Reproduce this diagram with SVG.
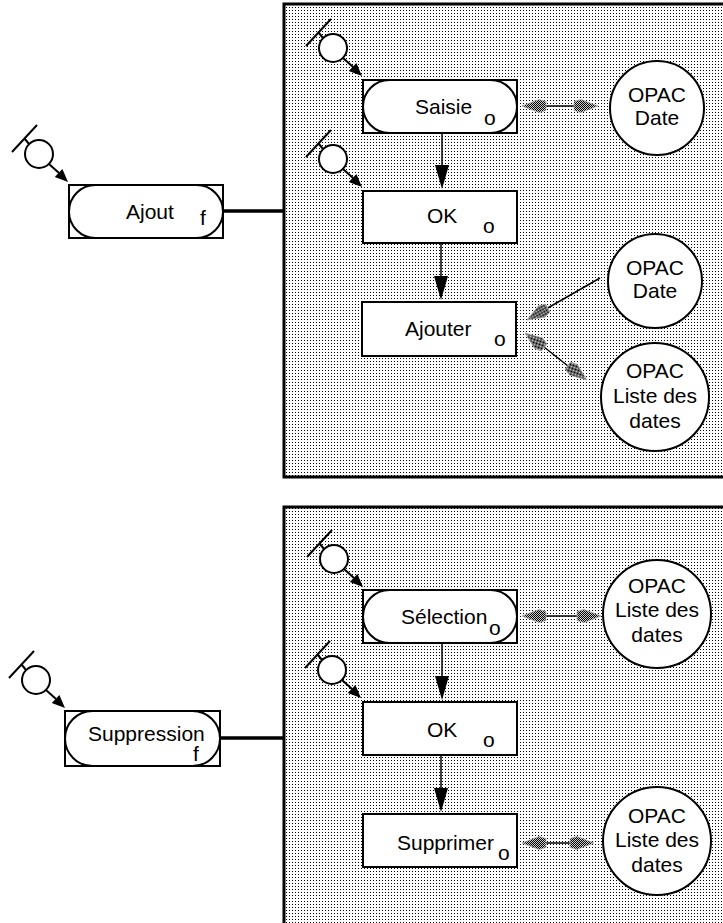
<svg xmlns="http://www.w3.org/2000/svg" xmlns:xlink="http://www.w3.org/1999/xlink" width="723" height="923" viewBox="0 0 723 923">
<defs>
<pattern id="dots" width="3" height="3" patternUnits="userSpaceOnUse"><rect width="3" height="3" fill="#fff"/><rect x="1" y="1" width="1" height="1" fill="#000"/></pattern>
<pattern id="dith" width="2" height="2" patternUnits="userSpaceOnUse"><rect width="2" height="2" fill="#c8c8c8"/><rect width="1" height="1" fill="#000"/><rect x="1" y="1" width="1" height="1" fill="#000"/></pattern>
<polygon id="gh" points="0,0 -17,-6.5 -24,-4.5 -24,4.5 -17,6.5" fill="url(#dith)" stroke="#aaa" stroke-width="0.8"/>
<polygon id="bh" points="0,0 -7,-24 7,-24" fill="#000"/>
<g id="start">
<circle cx="0" cy="0" r="14" fill="#fff" stroke="#000" stroke-width="2"/>
<line x1="-10" y1="-10" x2="-14.5" y2="-15.5" stroke="#000" stroke-width="2"/>
<line x1="-27" y1="-2" x2="-2" y2="-29" stroke="#000" stroke-width="2"/>
<line x1="10" y1="10" x2="20" y2="19" stroke="#000" stroke-width="2"/>
<polygon points="29,28 15.8,23 23.4,15" fill="#000"/>
</g>
</defs>
<style>
.panel{fill:url(#dots);stroke:#000;stroke-width:3}
.box{fill:#fff;stroke:#000;stroke-width:2}
.pill{fill:#fff;stroke:#000;stroke-width:2}
.ent{fill:#fff;stroke:#000;stroke-width:2}
.lbl{font-family:"Liberation Sans",Arial,sans-serif;font-size:21px;fill:#000}
.mid{text-anchor:middle}
.ln{stroke:#000;stroke-width:1.5;fill:none}
.thick{stroke:#000;stroke-width:3.5;fill:none}
</style>
<rect width="723" height="923" fill="#fff"/>

<g id="panel-top"><rect class="panel" x="284" y="4" width="460" height="473"/></g>
<g id="panel-bottom"><rect class="panel" x="284" y="507" width="460" height="440"/></g>

<g id="connectors">
<line class="thick" x1="223" y1="211" x2="284" y2="211"/>
<line class="thick" x1="220" y1="738" x2="284" y2="738"/>
<line class="ln" x1="442" y1="133" x2="442" y2="170"/><use xlink:href="#bh" transform="translate(442,189)"/>
<line class="ln" x1="441" y1="243" x2="441" y2="280"/><use xlink:href="#bh" transform="translate(441,300)"/>
<line class="ln" x1="442" y1="643" x2="442" y2="680"/><use xlink:href="#bh" transform="translate(442,700)"/>
<line class="ln" x1="441" y1="755" x2="441" y2="792"/><use xlink:href="#bh" transform="translate(441,812)"/>
<line class="ln" x1="545" y1="106" x2="575" y2="106"/><use xlink:href="#gh" transform="translate(522,106) rotate(180)"/><use xlink:href="#gh" transform="translate(598,106)"/>
<line class="ln" x1="546" y1="309" x2="600" y2="278"/><use xlink:href="#gh" transform="translate(527,320) rotate(150)"/>
<line class="ln" x1="544" y1="347" x2="568" y2="366"/><use xlink:href="#gh" transform="translate(525,333) rotate(217)"/><use xlink:href="#gh" transform="translate(587,380) rotate(37)"/>
<line class="ln" x1="545" y1="616" x2="578" y2="616"/><use xlink:href="#gh" transform="translate(522,616) rotate(180)"/><use xlink:href="#gh" transform="translate(601,616)"/>
<line class="ln" x1="545" y1="843" x2="571" y2="843"/><use xlink:href="#gh" transform="translate(522,843) rotate(180)"/><use xlink:href="#gh" transform="translate(594,843)"/>
</g>

<g id="start-ajout"><use xlink:href="#start" transform="translate(39,154)"/></g>
<g id="start-saisie"><use xlink:href="#start" transform="translate(333,48)"/></g>
<g id="start-ok1"><use xlink:href="#start" transform="translate(333,159)"/></g>
<g id="start-suppression"><use xlink:href="#start" transform="translate(36,680)"/></g>
<g id="start-selection"><use xlink:href="#start" transform="translate(334,559)"/></g>
<g id="start-ok2"><use xlink:href="#start" transform="translate(332,670)"/></g>

<g id="ajout">
<rect class="box" x="69" y="185" width="154" height="53"/>
<rect class="pill" x="69" y="185" width="154" height="53" rx="26.5"/>
<text class="lbl" x="126" y="219">Ajout</text><text class="lbl" x="200" y="225">f</text>
</g>
<g id="saisie">
<rect class="box" x="363" y="80" width="154" height="53"/>
<rect class="pill" x="363" y="80" width="154" height="53" rx="26.5"/>
<text class="lbl" x="415" y="114">Saisie</text><text class="lbl" x="484" y="125">o</text>
</g>
<g id="ok1">
<rect class="box" x="363" y="191" width="154" height="52"/>
<text class="lbl" x="427" y="223">OK</text><text class="lbl" x="483" y="233">o</text>
</g>
<g id="ajouter">
<rect class="box" x="362" y="302" width="154" height="54"/>
<text class="lbl" x="405" y="336">Ajouter</text><text class="lbl" x="494" y="346">o</text>
</g>
<g id="opac-date-1">
<circle class="ent" cx="657" cy="108" r="47"/>
<text class="lbl mid" x="657" y="102">OPAC</text><text class="lbl mid" x="657" y="125">Date</text>
</g>
<g id="opac-date-2">
<circle class="ent" cx="655" cy="281" r="47"/>
<text class="lbl mid" x="655" y="275">OPAC</text><text class="lbl mid" x="655" y="298">Date</text>
</g>
<g id="opac-liste-1">
<circle class="ent" cx="655" cy="397" r="54"/>
<text class="lbl mid" x="655" y="378">OPAC</text><text class="lbl mid" x="655" y="403">Liste des</text><text class="lbl mid" x="655" y="428">dates</text>
</g>

<g id="suppression">
<rect class="box" x="65" y="711" width="155" height="55"/>
<rect class="pill" x="65" y="711" width="155" height="55" rx="27.5"/>
<text class="lbl" x="88" y="741">Suppression</text><text class="lbl" x="193" y="761">f</text>
</g>
<g id="selection">
<rect class="box" x="363" y="590" width="154" height="53"/>
<rect class="pill" x="363" y="590" width="154" height="53" rx="26.5"/>
<text class="lbl" x="401" y="624">Sélection</text><text class="lbl" x="489" y="635">o</text>
</g>
<g id="ok2">
<rect class="box" x="363" y="702" width="154" height="53"/>
<text class="lbl" x="427" y="737">OK</text><text class="lbl" x="483" y="747">o</text>
</g>
<g id="supprimer">
<rect class="box" x="363" y="814" width="154" height="53"/>
<text class="lbl" x="397" y="850">Supprimer</text><text class="lbl" x="498" y="860">o</text>
</g>
<g id="opac-liste-2">
<circle class="ent" cx="657" cy="614" r="54"/>
<text class="lbl mid" x="657" y="593">OPAC</text><text class="lbl mid" x="657" y="617">Liste des</text><text class="lbl mid" x="657" y="642">dates</text>
</g>
<g id="opac-liste-3">
<circle class="ent" cx="657" cy="841" r="54"/>
<text class="lbl mid" x="657" y="823">OPAC</text><text class="lbl mid" x="657" y="847">Liste des</text><text class="lbl mid" x="657" y="872">dates</text>
</g>
</svg>
